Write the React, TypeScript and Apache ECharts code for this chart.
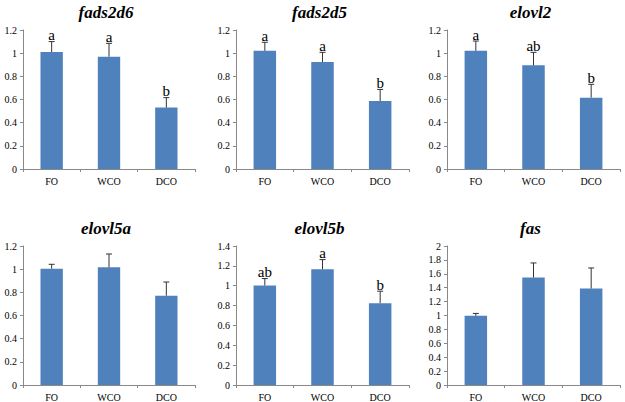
import React, { useEffect, useRef } from "react";
import * as echarts from "echarts";

const categories = ["FO", "WCO", "DCO"];

const panelTitles = ["fads2d6", "fads2d5", "elovl2", "elovl5a", "elovl5b", "fas"];

const fads2d6Mean = [1.01, 0.97, 0.53];
const fads2d6Err = [0.09, 0.115, 0.086];
const fads2d6Sig = ["a", "a", "b"];

const fads2d5Mean = [1.02, 0.924, 0.587];
const fads2d5Err = [0.074, 0.083, 0.1];
const fads2d5Sig = ["a", "a", "b"];

const elovl2Mean = [1.02, 0.895, 0.616];
const elovl2Err = [0.085, 0.112, 0.115];
const elovl2Sig = ["a", "ab", "b"];

const elovl5aMean = [1.004, 1.016, 0.771];
const elovl5aErr = [0.038, 0.115, 0.118];
const elovl5aSig = ["", "", ""];

const elovl5bMean = [1.002, 1.166, 0.824];
const elovl5bErr = [0.07, 0.097, 0.121];
const elovl5bSig = ["ab", "a", "b"];

const fasMean = [0.995, 1.546, 1.388];
const fasErr = [0.035, 0.21, 0.296];
const fasSig = ["", "", ""];

const yMax = [1.2, 1.2, 1.2, 1.2, 1.4, 2];
const yStep = [0.2, 0.2, 0.2, 0.2, 0.2, 0.2];

const means = [fads2d6Mean, fads2d5Mean, elovl2Mean, elovl5aMean, elovl5bMean, fasMean];
const errs = [fads2d6Err, fads2d5Err, elovl2Err, elovl5aErr, elovl5bErr, fasErr];
const sigs = [fads2d6Sig, fads2d5Sig, elovl2Sig, elovl5aSig, elovl5bSig, fasSig];

const gridRects = [
  { left: 23, top: 30, width: 172, height: 139 },
  { left: 236, top: 30, width: 173, height: 139 },
  { left: 447, top: 30, width: 173, height: 139 },
  { left: 23, top: 246, width: 172, height: 139 },
  { left: 236, top: 246, width: 173, height: 139 },
  { left: 447, top: 246, width: 173, height: 139 },
];

const SERIF = "Liberation Serif";
const BAR = "#4F81BD";
const AXIS = "#898989";

export default function App() {
  const ref = useRef<HTMLDivElement>(null);
  useEffect(() => {
    if (!ref.current) return;
    const chart = echarts.init(ref.current, undefined, { renderer: "svg" });
    const grid: any[] = [];
    const xAxis: any[] = [];
    const yAxis: any[] = [];
    const series: any[] = [];
    const title: any[] = [];
    for (let i = 0; i < 6; i++) {
      const g = gridRects[i];
      grid.push({ ...g });
      title.push({
        text: panelTitles[i],
        left: g.left + g.width / 2 - 8,
        textAlign: "center",
        top: g.top - 31,
        textStyle: {
          fontFamily: SERIF,
          fontStyle: "italic",
          fontWeight: "bold",
          fontSize: 17,
          color: "#000",
        },
      });
      xAxis.push({
        type: "category",
        gridIndex: i,
        data: categories,
        axisLine: { lineStyle: { color: AXIS, width: 1 } },
        axisTick: { show: true, length: 3, lineStyle: { color: AXIS } },
        axisLabel: { fontFamily: SERIF, fontSize: 10, color: "#000", margin: 7 },
      });
      yAxis.push({
        type: "value",
        gridIndex: i,
        min: 0,
        max: yMax[i],
        interval: yStep[i],
        splitLine: { show: false },
        axisLine: { show: true, lineStyle: { color: AXIS, width: 1 } },
        axisTick: { show: true, length: 3, lineStyle: { color: AXIS } },
        axisLabel: {
          fontFamily: SERIF,
          fontSize: 10,
          color: "#000",
          margin: 6,
          formatter: (v: number) => String(Math.round(v * 10) / 10),
        },
      });
      series.push({
        type: "bar",
        xAxisIndex: i,
        yAxisIndex: i,
        data: means[i],
        barWidth: "39%",
        itemStyle: { color: BAR },
        silent: true,
      });
      const errData = means[i].map((m, k) => [k, m, m + errs[i][k], sigs[i][k]]);
      series.push({
        type: "custom",
        xAxisIndex: i,
        yAxisIndex: i,
        data: errData,
        silent: true,
        z: 5,
        renderItem: (params: any, api: any) => {
          const k = api.value(0);
          const base = api.coord([k, api.value(1)]);
          const top = api.coord([k, api.value(2)]);
          const sig = errData[params.dataIndex][3] as string;
          const children: any[] = [
            {
              type: "line",
              shape: { x1: base[0], y1: base[1], x2: top[0], y2: top[1] },
              style: { stroke: "#333", lineWidth: 1 },
            },
            {
              type: "line",
              shape: { x1: top[0] - 3, y1: top[1], x2: top[0] + 3, y2: top[1] },
              style: { stroke: "#333", lineWidth: 1 },
            },
          ];
          if (sig) {
            children.push({
              type: "text",
              x: top[0],
              y: top[1] + 1,
              style: {
                text: sig,
                fontFamily: SERIF,
                fontSize: 15,
                fill: "#000",
                align: "center",
                verticalAlign: "bottom",
              },
            });
          }
          return { type: "group", children };
        },
      });
    }
    chart.setOption({
      animation: false,
      backgroundColor: "#fff",
      title,
      grid,
      xAxis,
      yAxis,
      series,
    });
    return () => chart.dispose();
  }, []);
  return <div ref={ref} style={{ width: 625, height: 402, position: "absolute", left: 0, top: 0 }} />;
}
